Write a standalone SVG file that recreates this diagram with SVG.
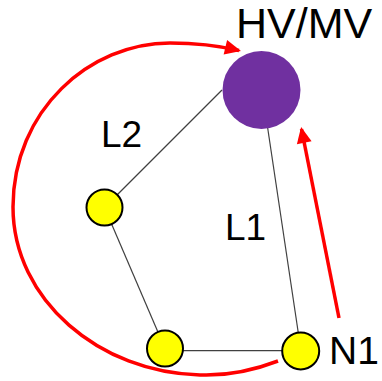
<svg xmlns="http://www.w3.org/2000/svg" width="382" height="381" viewBox="0 0 382 381">
<defs>
<marker id="arr" markerUnits="userSpaceOnUse" markerWidth="17" markerHeight="15" refX="14" refY="7.5" orient="auto" overflow="visible">
<path d="M0,0 L16,7.5 L0,15 Z" fill="#ff0000"/>
</marker>
<style>
.lbl{font-family:"Liberation Sans",Arial,sans-serif;fill:#000}
.edge{stroke:#404040;stroke-width:1.2;fill:none}
.flow{stroke:#ff0000;stroke-width:3.5;fill:none;marker-end:url(#arr)}
.bus{fill:#ffff00;stroke:#000;stroke-width:2}
</style>
</defs>
<rect width="382" height="381" fill="#fff"/>
<g id="connectors">
<line class="edge" x1="222" y1="90" x2="104.5" y2="207.5"/>
<line class="edge" x1="262" y1="90" x2="301" y2="351"/>
<line class="edge" x1="104.5" y1="207.5" x2="165" y2="348.5"/>
<line class="edge" x1="165" y1="350.7" x2="301" y2="350.7"/>
<path class="flow" d="M278,361 C252,371 228,376 200,375 C100,373 13,300 13,207 C13,110 90,43 170,43 C198,43 220,46 239,50.5"/>
<line class="flow" x1="339" y1="318" x2="301.5" y2="129"/>
</g>
<g id="hvmv">
<circle cx="261.5" cy="90" r="39" fill="#7030a0"/>
<text class="lbl" x="236" y="38" font-size="43">HV/MV</text>
</g>
<g id="nodeA"><circle class="bus" cx="104.5" cy="207.5" r="18"/></g>
<g id="nodeB"><circle class="bus" cx="165" cy="348.5" r="18"/></g>
<g id="N1">
<circle class="bus" cx="300.7" cy="351" r="18.5"/>
<text class="lbl" x="329" y="364" font-size="39">N1</text>
</g>
<g id="labels">
<text class="lbl" x="101" y="147" font-size="37">L2</text>
<text class="lbl" x="225" y="240" font-size="37">L1</text>
</g>
</svg>
